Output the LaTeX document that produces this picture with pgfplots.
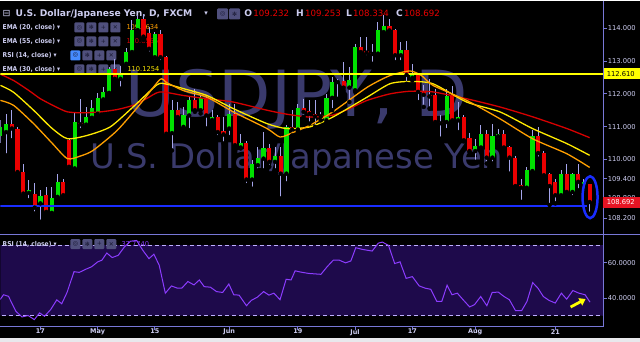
\documentclass[border=0pt]{standalone}
\usepackage{fontspec}
\setmainfont{DejaVu Sans}
\usepackage{pgfplots}
\pgfplotsset{compat=1.18}
\usepackage{pgfplotstable}
\usetikzlibrary{arrows.meta}

\definecolor{wick}{RGB}{165,165,235}
\definecolor{upc}{RGB}{0,225,0}
\definecolor{dnc}{RGB}{235,0,0}
\definecolor{axc}{RGB}{120,120,215}
\definecolor{txc}{RGB}{205,205,240}
\definecolor{wm}{RGB}{58,58,108}
\definecolor{ema20}{RGB}{255,160,0}
\definecolor{ema30}{RGB}{255,235,0}
\definecolor{ema55}{RGB}{215,0,0}
\definecolor{rsic}{RGB}{140,60,255}
\definecolor{band}{RGB}{30,10,75}
\definecolor{iconc}{RGB}{80,80,125}
\definecolor{iconhl}{RGB}{70,140,255}
\definecolor{glyphc}{RGB}{25,25,50}
\definecolor{hlc}{RGB}{255,255,0}
\definecolor{bluec}{RGB}{25,45,255}
\definecolor{lastred}{RGB}{230,20,35}
\definecolor{titlered}{RGB}{235,0,0}
\definecolor{strip}{RGB}{232,232,236}
\definecolor{dashc}{RGB}{190,175,255}

\pgfplotstableread{
x o h l c
-7 110.70 111.20 110.50 111.00
-6 110.83 111.39 110.12 111.09
-2 108.97 109.36 108.75 109.07
0 108.65 109.05 108.09 108.87
2 108.36 109.16 108.34 108.83
3 108.85 109.56 108.75 109.31
6 109.72 111.45 109.61 111.14
8 111.06 111.60 111.00 111.29
9 111.27 111.80 111.19 111.57
10 111.39 112.03 111.34 111.87
11 111.83 112.20 111.75 112.06
12 112.03 112.82 112.00 112.77
14 112.46 112.84 112.16 112.64
15 112.92 113.40 112.80 113.28
16 113.28 114.25 113.20 113.96
17 113.95 114.40 113.85 114.30
20 113.12 113.90 113.00 113.84
23 110.80 111.80 110.27 111.50
25 110.99 111.60 110.94 111.34
26 111.34 111.90 110.89 111.82
28 111.50 111.95 111.40 111.87
30 111.20 111.50 111.10 111.29
33 110.94 111.70 110.68 111.39
35 110.36 110.78 110.33 110.50
37 109.38 109.99 109.10 109.84
38 109.82 110.38 109.66 110.04
39 110.02 110.83 109.66 110.33
41 109.92 110.38 109.66 110.09
43 109.56 111.04 109.26 110.99
45 110.91 111.70 110.85 111.57
49 111.31 111.45 111.19 111.34
50 111.19 112.00 111.14 111.88
51 111.88 112.51 111.50 112.36
52 112.36 112.46 111.85 112.38
54 112.19 112.82 111.75 112.41
55 112.11 113.53 112.06 113.43
59 113.23 114.19 113.18 113.94
60 113.89 114.40 113.84 114.09
63 113.18 113.58 112.97 113.33
65 112.49 112.92 112.41 112.64
71 111.14 112.16 110.89 111.92
73 111.19 111.75 110.83 111.29
76 110.25 110.63 109.92 110.40
77 110.36 111.04 110.27 110.76
79 110.05 111.09 109.87 110.70
80 110.70 110.94 110.58 110.76
85 109.13 109.77 109.10 109.66
86 109.64 110.91 109.61 110.70
91 108.90 109.66 108.85 109.54
93 109.00 109.59 108.84 109.54
95 109.20 109.41 109.13 109.30
}\upT

\pgfplotstableread{
x o h l c
-5 111.07 111.50 110.58 110.94
-4 110.94 110.98 109.58 109.61
-3 109.61 109.87 108.85 108.95
-1 108.95 109.26 108.34 108.52
1 108.90 109.16 108.29 108.39
4 109.31 109.41 108.85 108.90
5 110.58 110.63 109.66 109.77
7 111.12 111.85 110.89 111.07
13 112.77 113.07 112.36 112.46
18 114.30 114.45 113.65 113.75
19 113.85 114.04 113.23 113.38
21 113.84 113.95 112.97 113.12
22 113.12 113.15 110.70 110.78
24 111.52 111.75 111.19 111.29
27 111.82 112.16 111.45 111.50
29 111.87 111.92 110.94 111.34
31 111.29 111.35 110.68 110.83
32 110.87 111.29 110.48 110.76
34 111.39 111.70 110.38 110.43
36 110.50 110.55 109.21 109.38
40 110.33 110.48 109.77 109.92
42 110.09 110.38 108.80 109.56
44 110.99 111.50 110.73 110.91
46 111.57 111.85 111.30 111.45
47 111.47 111.80 111.09 111.39
48 111.39 111.80 110.99 111.31
53 112.38 112.97 112.10 112.19
56 113.43 113.74 113.23 113.28
57 113.31 113.74 113.12 113.26
58 113.26 113.53 112.92 113.22
61 114.09 114.30 113.84 113.94
62 113.96 113.99 112.97 113.18
64 113.33 113.63 112.31 112.58
66 112.60 112.65 111.75 112.06
67 112.08 112.26 111.60 111.97
68 111.98 112.46 111.55 111.92
69 111.95 112.16 111.04 111.14
70 111.14 111.34 110.63 111.10
72 111.92 112.23 111.14 111.19
74 111.29 111.34 110.55 110.58
75 110.66 110.80 110.22 110.25
78 110.76 110.89 109.87 110.05
81 110.76 110.89 110.27 110.36
82 110.36 110.40 109.56 110.05
83 110.05 110.10 109.16 109.18
84 109.20 109.41 108.70 109.13
87 110.70 110.99 110.02 110.19
88 110.19 110.25 109.46 109.51
89 109.54 109.59 108.60 109.18
90 109.31 109.41 108.65 108.90
92 109.54 109.84 108.90 109.00
94 109.54 109.84 109.05 109.31
96 109.232 109.253 108.334 108.692
}\dnT

\pgfplotstableread{
x y
-7 112.60
-4.7 112.41
-2 112.10
0 111.85
2.5 111.62
4.7 111.45
7.5 111.42
10.5 111.45
13.4 111.52
16.2 111.65
18.5 111.85
20.9 112.06
25 111.95
29.1 111.85
33.7 111.75
39.6 111.50
43 111.38
47.1 111.29
51.1 111.35
54 111.55
57.1 111.80
61.1 112.00
64.6 112.08
68.6 112.06
74.5 111.85
80.3 111.60
86 111.30
92 110.94
96 110.66
}\emaA

\pgfplotstableread{
x y
-7 112.26
-4.7 112.05
-1.2 111.50
2 110.95
4.7 110.63
8.2 110.73
12.2 110.99
16.2 111.60
20.4 112.28
22 112.30
25 112.16
29.1 111.95
33.7 111.55
39.6 111.09
43 110.94
47.1 110.99
51.1 111.29
57.1 111.90
61.1 112.31
64.6 112.38
68.6 112.31
74.5 111.75
80.3 111.45
86 110.94
92 110.48
96 110.12
}\emaB

\pgfplotstableread{
x y
-7 111.80
-4.7 111.65
-1.2 111.09
2 110.50
4.7 110.02
7 110.10
9.2 110.27
13.4 110.88
17.5 111.70
20.9 112.44
22 112.35
25 112.10
29.1 111.90
33.7 111.45
39.6 110.94
41.9 110.68
44.3 110.83
47.1 111.04
51.1 111.45
57.1 112.20
61.1 112.56
64.6 112.70
66.6 112.56
68.6 112.26
74.5 111.80
80.3 111.24
86 110.63
92 110.17
96 109.75
}\emaC

\pgfplotstableread{
x y
-7.16 38.7
-6.44 41.9
-5.58 41.0
-4.29 32.5
-3.22 29.3
-2.15 30.1
-1.07 27.8
-0.14 31.6
0.72 29.7
1.79 33.5
2.86 39.0
3.72 36.8
4.65 43.2
5.87 55.0
6.80 54.6
7.87 56.3
8.95 57.8
10.02 60.6
10.74 61.5
11.6 65.6
12.53 63.0
13.6 64.3
14.67 69.0
15.75 72.3
16.82 72.7
17.9 67.1
18.97 62.4
19.83 64.9
20.76 58.7
21.83 42.8
22.9 46.9
23.98 45.6
24.7 45.6
25.77 49.4
26.84 47.5
27.77 50.3
28.63 46.5
29.71 46.2
30.78 43.7
31.85 43.2
32.93 48.0
33.79 41.9
34.72 41.7
36.01 35.7
36.86 38.7
37.94 40.6
39.01 43.7
39.94 41.7
40.8 42.8
41.88 39.1
42.95 50.7
43.81 50.3
44.52 55.5
45.45 54.8
46.89 54.0
49.03 53.5
50.11 57.8
51.18 61.5
52.26 61.5
53.33 60.0
54.26 61.1
55.12 68.6
56.19 67.7
57.98 66.7
59.06 71.2
59.77 71.8
60.84 69.9
61.92 59.6
62.85 60.6
63.92 51.2
65.0 52.2
66.21 46.9
67.29 45.6
68.22 45.0
69.29 38.1
70.15 38.1
71.08 47.3
71.94 41.9
72.87 42.8
73.87 39.1
75.02 35.0
75.88 36.3
76.95 40.9
78.03 35.7
78.96 43.2
80.03 43.4
81.03 40.9
81.96 39.1
83.04 32.9
84.11 32.9
85.04 38.1
86.04 48.8
86.97 45.6
87.9 40.9
88.9 38.7
89.98 37.2
91.05 42.8
91.98 39.4
93.06 44.3
94.13 42.8
95.2 41.9
96.06 37.7
}\rsiT

\tikzset{glyph/.style={font=\fontsize{6}{6}\selectfont, text=glyphc, inner sep=0}}
\newcommand{\iconrow}[3]{%
 \fill[#3, rounded corners=1bp] (#1,#2-5) rectangle ++(10,10);
 \fill[iconc, rounded corners=1bp] (#1+12,#2-5) rectangle ++(10,10);
 \fill[iconc, rounded corners=1bp] (#1+24,#2-5) rectangle ++(10,10);
 \fill[iconc, rounded corners=1bp] (#1+36,#2-5) rectangle ++(10,10);
 \node[glyph] at (#1+5,#2) {◎};
 \node[glyph] at (#1+17,#2) {✻};
 \node[glyph] at (#1+29,#2) {+};
 \node[glyph] at (#1+41,#2) {✕};}
\newcommand{\legfont}{\bfseries\fontsize{6.7}{7}\selectfont}
\newcommand{\valfont}{\fontsize{6.7}{7}\selectfont}
\tikzset{leg/.style={anchor=west, inner sep=0, text=txc, font=\legfont, xscale=0.9}}

\begin{document}
\begin{tikzpicture}
\begin{scope}[x=1bp,y=-1bp]
\fill[black] (0,0) rectangle (640,342);
\path[use as bounding box] (0,0) rectangle (640,342);
% watermark
\node[anchor=base west, inner sep=0, text=wm, font=\fontsize{64}{64}\selectfont, xscale=1.07] at (125,116) {USDJPY, D};
\node[anchor=base west, inner sep=0, text=wm, font=\fontsize{34}{34}\selectfont] at (90,168) {U.S. Dollar/Japanese Yen};
% title row
\node[anchor=base west, inner sep=0, text=txc, font=\fontsize{9.5}{10}\selectfont] at (2,16.5) {⊟};
\node[anchor=base west, inner sep=0, text=txc, font=\bfseries\fontsize{9.2}{10}\selectfont] at (15,16) {U.S. Dollar/Japanese Yen, D, FXCM};
\node[anchor=base west, inner sep=0, text=txc, font=\fontsize{7}{8}\selectfont] at (204,15) {▾};
\fill[iconc, rounded corners=1bp] (217,8) rectangle (228,19);
\fill[iconc, rounded corners=1bp] (229,8) rectangle (240,19);
\node[glyph] at (222.5,13.5) {◎};
\node[glyph] at (234.5,13.5) {✻};
\node[anchor=base west, inner sep=0, text=txc, font=\bfseries\fontsize{9.2}{10}\selectfont] at (244,16) {O};
\node[anchor=base west, inner sep=0, text=titlered, font=\fontsize{8.7}{10}\selectfont] at (253,16) {109.232};
\node[anchor=base west, inner sep=0, text=txc, font=\bfseries\fontsize{9.2}{10}\selectfont] at (296,16) {H};
\node[anchor=base west, inner sep=0, text=titlered, font=\fontsize{8.7}{10}\selectfont] at (305,16) {109.253};
\node[anchor=base west, inner sep=0, text=txc, font=\bfseries\fontsize{9.2}{10}\selectfont] at (346,16) {L};
\node[anchor=base west, inner sep=0, text=titlered, font=\fontsize{8.7}{10}\selectfont] at (353,16) {108.334};
\node[anchor=base west, inner sep=0, text=txc, font=\bfseries\fontsize{9.2}{10}\selectfont] at (396,16) {C};
\node[anchor=base west, inner sep=0, text=titlered, font=\fontsize{8.7}{10}\selectfont] at (404,16) {108.692};
% legend rows
\node[leg] at (2,27) {EMA (20, close) ▾};
\iconrow{74}{27}{iconc}
\node[anchor=west, inner sep=0, text=ema20, font=\valfont] at (126,27) {109.7634};
\node[leg] at (2,41) {EMA (55, close) ▾};
\iconrow{74}{41}{iconc}
\node[anchor=west, inner sep=0, text=ema55, font=\valfont] at (126,41) {110.6555};
\node[leg] at (2,55) {RSI (14, close) ▾};
\iconrow{70}{55}{iconhl}
\node[leg] at (2,69) {EMA (30, close) ▾};
\iconrow{74}{69}{iconc}
\node[anchor=west, inner sep=0, text=ema30, font=\valfont] at (127,69) {110.1254};
\end{scope}

% ---------- price panel ----------
\begin{axis}[
 at={(0bp,0bp)}, anchor=north west, scale only axis,
 width=604bp, height=234bp,
 xmin=-6.98, xmax=98.43, ymin=107.71, ymax=114.855,
 axis line style={draw=none},
 xtick=\empty,
 ytick={108.2,108.8,109.4,110,111,112,113,114},
 ytick pos=right, yticklabel pos=right,
 tick align=outside, major tick length=3bp,
 tick style={draw=axc, line width=0.8bp},
 yticklabel style={font=\fontsize{6.8}{7}\selectfont, text=txc, inner sep=1bp,
   /pgf/number format/fixed, /pgf/number format/fixed zerofill,
   /pgf/number format/precision=3, /pgf/number format/assume math mode=true},
 clip=true,
]
\addplot[only marks, mark=none, forget plot, error bars/.cd, y dir=plus, y explicit, error mark=none,
  error bar style={draw=wick, line width=1bp}]
  table[x=x, y=l, y error plus expr=\thisrow{h}-\thisrow{l}] {\upT};
\addplot[only marks, mark=none, forget plot, error bars/.cd, y dir=plus, y explicit, error mark=none,
  error bar style={draw=wick, line width=1bp}]
  table[x=x, y=l, y error plus expr=\thisrow{h}-\thisrow{l}] {\dnT};
\addplot[only marks, mark=none, forget plot, error bars/.cd, y dir=plus, y explicit, error mark=none,
  error bar style={draw=upc, line width=4.2bp}]
  table[x=x, y=o, y error plus expr=\thisrow{c}-\thisrow{o}] {\upT};
\addplot[only marks, mark=none, forget plot, error bars/.cd, y dir=plus, y explicit, error mark=none,
  error bar style={draw=dnc, line width=4.2bp}]
  table[x=x, y=c, y error plus expr=\thisrow{o}-\thisrow{c}] {\dnT};
\addplot[ema55, line width=1.3bp, smooth, tension=0.4, mark=none] table[x=x,y=y] {\emaA};
\addplot[ema30, line width=1.3bp, smooth, tension=0.4, mark=none] table[x=x,y=y] {\emaB};
\addplot[ema20, line width=1.3bp, smooth, tension=0.4, mark=none] table[x=x,y=y] {\emaC};
\addplot[hlc, line width=1.5bp, mark=none] coordinates {(-8,112.61) (99,112.61)};
\addplot[bluec, line width=1.8bp, mark=none] coordinates {(-8,108.574) (95.6,108.574)};
\end{axis}

% ---------- RSI panel ----------
\begin{axis}[
 at={(0bp,-234bp)}, anchor=north west, scale only axis,
 width=604bp, height=93bp,
 xmin=-6.98, xmax=98.43, ymin=23.6, ymax=76.3,
 axis line style={draw=none},
 ytick={40,60},
 ytick pos=right, yticklabel pos=right,
 xtick={0,10,20,33,45,55,65,76,90},
 xticklabels={17,May,15,Jun,19,Jul,17,Aug,21},
 xtick pos=bottom,
 tick align=outside, major tick length=3bp,
 tick style={draw=axc, line width=0.8bp},
 yticklabel style={font=\fontsize{6.8}{7}\selectfont, text=txc, inner sep=1bp,
   /pgf/number format/fixed, /pgf/number format/fixed zerofill,
   /pgf/number format/precision=4, /pgf/number format/assume math mode=true},
 xticklabel style={font=\bfseries\fontsize{6.5}{7}\selectfont, text=txc, inner sep=1bp, yshift=2bp},
 clip=true,
]
\addplot[fill=band, draw=none, forget plot] coordinates {(-8,30) (99,30) (99,70) (-8,70) (-8,30)};
\addplot[dashc, line width=0.8bp, dash pattern=on 4bp off 3bp, mark=none] coordinates {(-8,70) (99,70)};
\addplot[dashc, line width=0.8bp, dash pattern=on 4bp off 3bp, mark=none] coordinates {(-8,30) (99,30)};
\addplot[rsic, line width=1bp, mark=none] table[x=x,y=y] {\rsiT};
\end{axis}

\begin{scope}[x=1bp,y=-1bp]
% frame lines
\draw[axc, line width=1bp] (0,234) -- (640,234);
\draw[axc, line width=1bp] (604,0) -- (604,327.5);
\draw[axc, line width=1bp] (0,327) -- (604,327);
% RSI label
\node[leg] at (2,244) {RSI (14, close) ▾};
\iconrow{70}{244}{iconc}
\node[anchor=west, inner sep=0, text=rsic, font=\valfont] at (121,244) {37.7740};
% price labels
\fill[hlc] (604,68) rectangle (640,79);
\node[anchor=west, inner sep=0, text=black, font=\fontsize{6.8}{7}\selectfont] at (607,73.5) {112.610};
\fill[lastred] (603,196.5) rectangle (640,207.5);
\node[anchor=west, inner sep=0, text=white, font=\fontsize{6.8}{7}\selectfont] at (607,202) {108.692};
% annotations
\draw[bluec, line width=2.5bp] (590.5,197) ellipse [x radius=7.5, y radius=21];
\draw[-{Triangle[length=6bp,width=8bp]}, line width=2.8bp, hlc] (571,307) -- (586,299);
\fill[strip] (0,338.5) rectangle (640,342);
\end{scope}
\end{tikzpicture}
\end{document}
